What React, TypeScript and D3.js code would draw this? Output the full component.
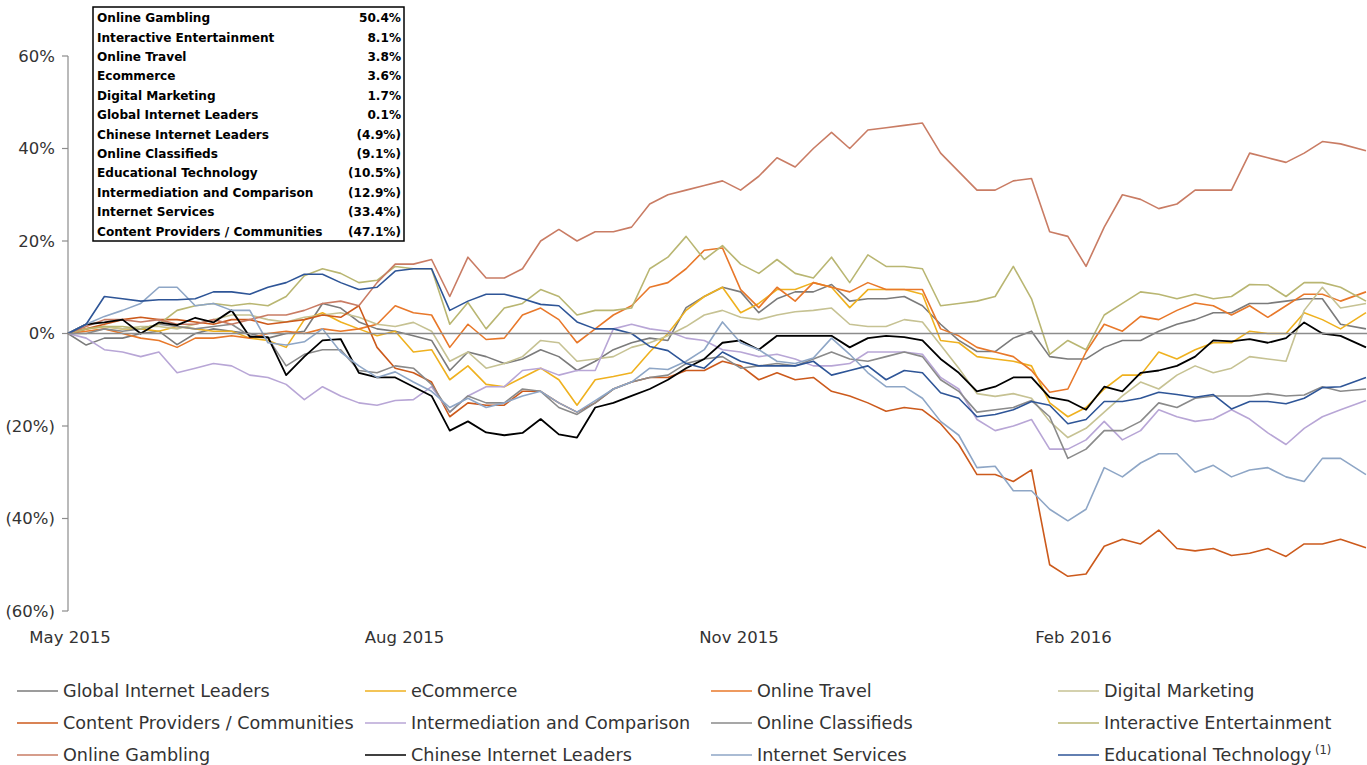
import React from "react";
import * as d3 from "d3";

const DATES = [
  "2015-05-01","2015-05-06","2015-05-11","2015-05-16","2015-05-21","2015-05-26","2015-05-31","2015-06-05","2015-06-10","2015-06-15",
  "2015-06-20","2015-06-25","2015-06-30","2015-07-05","2015-07-10","2015-07-15","2015-07-20","2015-07-25","2015-07-30","2015-08-04",
  "2015-08-09","2015-08-14","2015-08-19","2015-08-24","2015-08-29","2015-09-03","2015-09-08","2015-09-13","2015-09-18","2015-09-23",
  "2015-09-28","2015-10-03","2015-10-08","2015-10-13","2015-10-18","2015-10-23","2015-10-28","2015-11-02","2015-11-07","2015-11-12",
  "2015-11-17","2015-11-22","2015-11-27","2015-12-02","2015-12-07","2015-12-12","2015-12-17","2015-12-22","2015-12-27","2016-01-01",
  "2016-01-06","2016-01-11","2016-01-16","2016-01-21","2016-01-26","2016-01-31","2016-02-05","2016-02-10","2016-02-15","2016-02-20",
  "2016-02-25","2016-03-01","2016-03-06","2016-03-11","2016-03-16","2016-03-21","2016-03-26","2016-03-31","2016-04-05","2016-04-10",
  "2016-04-15","2016-04-22"
];

const X_TICKS = ["2015-05-01", "2015-08-01", "2015-11-01", "2016-02-01"];
const X_TICK_LABELS = ["May 2015", "Aug 2015", "Nov 2015", "Feb 2016"];
const Y_TICKS = [60, 40, 20, 0, -20, -40, -60];

const GLOBAL_INTERNET_LEADERS = [0,-2.5,-1,-1,0,0.5,-2.4,0,1,0.5,0,-1,0,0.5,6.5,5.5,2.5,1,0.5,-0.5,-1.5,-8,-4,-5,-6.5,-5.5,-3.5,-5,-8,-6,-3.5,-2,-1,-1.5,5.6,8,10,9,4.5,7.5,9,9,10.6,7,7.5,7.5,8,6,2,-1.5,-3.9,-3.9,-1,0.5,-5,-5.5,-5.5,-3,-1.5,-1.5,0.5,2,3,4.5,4.5,6.5,6.5,7,7.5,7.5,2,1];
const ECOMMERCE = [0,1,1.5,1,1,0.5,1.5,1,0.5,0.5,-1,-1.5,-3,3,4.5,2.5,1,-0.5,0.5,-4,-3.5,-10,-7,-11,-11.5,-9.5,-7.5,-10,-15.5,-10,-9.3,-8.5,-4,0,5,8,10,4.5,6.5,9.5,9.5,11,10,5.6,9.5,9.5,9.5,8.5,-1.5,-2,-5,-5.5,-6,-7,-15,-18,-16,-12,-9,-9,-4,-5.5,-3.5,-2,-2,0.5,0,0,4.5,3,1,4.5];
const ONLINE_TRAVEL = [0,0.5,1,0,-1,-1.5,-3,-1,-1,-0.5,-1,0,0.5,0,1,0.5,1,2,6,4.5,4,-3,2,-1.3,-1,4,5.5,3,-2,1,4,6,10,11,14,18,18.5,9.5,5.6,10,7,11,10,9,11,9.5,9.5,9.5,1,-0.5,-3,-4,-5,-8,-12.7,-12,-4,2,0.5,3.7,3,5,6.6,6,4,6,3.5,6,8.5,8.5,7,9];
const DIGITAL_MARKETING = [0,1,1.5,1,1.5,1.5,1,2,3,4,4,3,2.5,3.5,4,4.5,3.5,2,1.5,2.4,0.5,-6,-4,-7.5,-6.5,-5,-1.5,-2,-6,-5.5,-5,-3,-2,-0.5,1.5,4,5,3.5,3,4,4.7,5,5.5,2,1.5,1.5,3,2.5,-2.5,-7.5,-13,-13.6,-13,-14,-19,-22.5,-20.5,-17,-13.5,-10.5,-12,-9,-7,-8.5,-7.5,-5,-5.5,-6,5,10,5.5,6.5];
const CONTENT_PROVIDERS = [0,1,2,3,3.5,3,3,2.5,2,3,3,2,2.5,3,4,3.5,6,-3,-7.5,-8.5,-10.5,-18,-15,-15.5,-15.5,-12.5,-12.5,-15,-17,-15,-12,-10.5,-9.5,-9.5,-8,-8,-6,-7,-10,-8.5,-10,-9.5,-12.5,-13.5,-15,-16.8,-16,-16.5,-19.5,-24,-30.5,-30.5,-32,-29.5,-50,-52.5,-52,-46,-44.5,-45.5,-42.5,-46.5,-47,-46.5,-48,-47.5,-46.5,-48.2,-45.5,-45.5,-44.5,-46.3];
const INTERMEDIATION = [0,-1,-3.5,-4,-5,-4,-8.5,-7.5,-6.5,-7,-9,-9.5,-11,-14.3,-11.5,-13.5,-15,-15.5,-14.5,-14.3,-11.5,-17,-13.5,-11.5,-11.5,-8,-7.5,-9,-8,-8,1,2,1,0.5,-1,-1.5,-3.5,-4,-5,-4.5,-5.5,-7,-7,-6.5,-4,-4,-4,-4.5,-9.5,-12,-18.6,-21,-20,-18.6,-25,-25,-23,-19,-23,-21,-16.5,-18,-19,-18.5,-16.5,-18.5,-21.5,-24,-20.5,-18,-16.5,-14.5];
const ONLINE_CLASSIFIEDS = [0,0,1,0.5,1,2,1.5,1,1.5,2,-0.5,-1,-7,-4.5,-3.5,-3.5,-8,-8.5,-7,-7.5,-11,-17,-13.5,-15,-15,-12,-12.5,-16,-17.5,-15,-12,-10.5,-9.5,-9,-6.5,-5.5,-5,-7.5,-7,-6.5,-7,-5.5,-4,-5.5,-6,-5,-4,-5,-10,-12.5,-17,-16.5,-16,-14.5,-18,-27,-25,-21,-21,-19,-15,-16,-14,-13.5,-13.5,-13.5,-13,-13.5,-13.3,-11.5,-12.5,-12];
const INTERACTIVE_ENTERTAINMENT = [0,1,1.5,1.5,1,2,5,6,6.5,6,6.5,6,8,12.5,14,13,11,11.5,14.5,14,14,2,6.7,1,5.5,6.5,9.5,8,4,5,5,5.5,14,16.5,21,16,19,15,13,16,13,12,16.5,11,17,14.5,14.5,14,6,6.5,7,8,14.5,7.5,-4.5,-1.5,-3.5,4,6.5,9,8.5,7.5,8.5,7.5,8,10.6,10.5,8,11,11,10,7];
const ONLINE_GAMBLING = [0,1.5,3,3,2.5,3,2,2,3,2,3,4,4,5,6.5,7,6,11,15,15,16,8,16.5,12,12,14,20,22.5,20,22,22,23,28,30,31,32,33,31,34,38,36,40,43.5,40,44,44.5,45,45.5,39,35,31,31,33,33.5,22,21,14.5,23,30,29,27,28,31,31,31,39,38,37,39,41.5,41,39.5];
const CHINESE_INTERNET_LEADERS = [0,2,2.4,3,0,2.4,1.8,3.4,2.4,5,-0.7,-0.8,-9,-5,-1.5,-1.2,-8.5,-9.5,-9.5,-11.5,-13.5,-21,-19,-21.4,-22,-21.5,-18.5,-21.8,-22.5,-16,-15,-13.5,-12,-10,-7.5,-5.5,-2,-1.5,-3.5,-0.5,-0.5,-0.5,-0.5,-3,-1,-0.5,-0.8,-1.5,-5.5,-8.5,-12.5,-11.5,-9.5,-9.5,-13.8,-14.5,-16.5,-11.5,-12.5,-8.5,-8,-7,-5,-1.5,-1.7,-1.2,-2,-1,2.4,0,-0.5,-3];
const INTERNET_SERVICES = [0,2,3.7,5,6.5,10,10,6,6.5,5,5,-2,-2.5,-1.8,1,-4,-7,-9.5,-8.3,-10.5,-12.5,-16,-14,-16,-15,-13.5,-12.5,-15,-17,-14.5,-12,-10.5,-7.5,-7.8,-6,-3.5,2.5,-2,-3.5,-6,-6.5,-5.3,-1,-4.5,-8.5,-11.5,-11.5,-14,-19,-22,-29,-28.7,-34,-34,-38,-40.5,-38,-29,-31,-28,-26,-26,-30,-28.5,-31,-29.5,-29,-31,-32,-27,-27,-30.5];
const EDUCATIONAL_TECHNOLOGY = [0,2,8,7.5,7,7.3,7.3,7.5,9,9,8.5,10,11,12.8,12.8,11,9.5,10,13.5,14,14,5,7,8.5,8.5,7.5,6.3,6,2.5,1,1,0,-2.8,-3.7,-6.5,-7.5,-4,-6,-7,-7,-7,-6,-9,-8,-7,-10,-8,-8.5,-12.8,-14,-18,-17.5,-16.5,-14.7,-15.5,-19.5,-18.6,-14.7,-14.7,-14,-12.7,-13.2,-13.8,-13.2,-16.3,-14.7,-14.7,-15.2,-14,-11.7,-11.5,-9.5];

const TABLE_NAMES = ["Online Gambling","Interactive Entertainment","Online Travel","Ecommerce","Digital Marketing","Global Internet Leaders","Chinese Internet Leaders","Online Classifieds","Educational Technology","Intermediation and Comparison","Internet Services","Content Providers / Communities"];
const TABLE_VALUES = ["50.4%","8.1%","3.8%","3.6%","1.7%","0.1%","(4.9%)","(9.1%)","(10.5%)","(12.9%)","(33.4%)","(47.1%)"];

const SERIES = [
  { name: "Global Internet Leaders", values: GLOBAL_INTERNET_LEADERS, color: "#7b7b7b" },
  { name: "eCommerce", values: ECOMMERCE, color: "#efb11f" },
  { name: "Online Travel", values: ONLINE_TRAVEL, color: "#e8782a" },
  { name: "Digital Marketing", values: DIGITAL_MARKETING, color: "#c6c293" },
  { name: "Content Providers / Communities", values: CONTENT_PROVIDERS, color: "#cc5a1c" },
  { name: "Intermediation and Comparison", values: INTERMEDIATION, color: "#b8a6d6" },
  { name: "Online Classifieds", values: ONLINE_CLASSIFIEDS, color: "#8a8a8a" },
  { name: "Interactive Entertainment", values: INTERACTIVE_ENTERTAINMENT, color: "#b9b672" },
  { name: "Online Gambling", values: ONLINE_GAMBLING, color: "#c97c64" },
  { name: "Chinese Internet Leaders", values: CHINESE_INTERNET_LEADERS, color: "#000000" },
  { name: "Internet Services", values: INTERNET_SERVICES, color: "#8ea6c6" },
  { name: "Educational Technology", values: EDUCATIONAL_TECHNOLOGY, color: "#2e5597" },
];

const FONT = "'DejaVu Sans', sans-serif";

export default function App() {
  const W = 1367, H = 765;
  const parse = d3.timeParse("%Y-%m-%d");
  const dates = DATES.map((s) => parse(s) as Date);
  const x = d3.scaleTime().domain([dates[0], dates[dates.length - 1]]).range([68, 1366]);
  const y = d3.scaleLinear().domain([-60, 60]).range([611, 56]);
  const fmtY = (v: number) => (v < 0 ? `(${Math.abs(v)}%)` : `${v}%`);

  const legendCols = [17, 365, 711, 1058];
  const legendRows = [691, 723, 755];

  return (
    <svg width={W} height={H} style={{ position: "absolute", left: 0, top: 0, background: "#fff" }} fontFamily={FONT}>
      {/* y axis */}
      <line x1={68} x2={68} y1={y(60)} y2={y(-60)} stroke="#8c8c8c" strokeWidth={1.2} />
      {Y_TICKS.map((t) => (
        <g key={t}>
          <line x1={62} x2={68} y1={y(t)} y2={y(t)} stroke="#8c8c8c" strokeWidth={1.2} />
          <text x={55} y={y(t)} dy="0.35em" textAnchor="end" fontSize={16.5} fill="#333">
            {fmtY(t)}
          </text>
        </g>
      ))}
      {X_TICKS.map((t, i) => (
        <text key={t} x={x(parse(t) as Date) + 2} y={643} textAnchor="middle" fontSize={16.5} fill="#333">
          {X_TICK_LABELS[i]}
        </text>
      ))}
      {/* series */}
      {SERIES.map((s) => {
        const line = d3
          .line<number>()
          .x((_, i) => x(dates[i]))
          .y((v) => y(v));
        return (
          <path
            key={s.name}
            d={line(s.values) || ""}
            fill="none"
            stroke={s.color}
            strokeWidth={s.color === "#000000" ? 1.8 : 1.6}
            strokeLinejoin="round"
          />
        );
      })}
      {/* zero line */}
      <line x1={68} x2={1367} y1={y(0)} y2={y(0)} stroke="#8c8c8c" strokeWidth={1.5} />

      {/* table */}
      <rect x={93} y={7} width={311} height={234} fill="#fff" stroke="#000" strokeWidth={1.5} />
      {TABLE_NAMES.map((n, i) => (
        <g key={n}>
          <text x={97} y={18 + i * 19.4} dy="0.35em" fontSize={12.1} fontWeight="bold" fill="#000">
            {n}
          </text>
          <text x={401} y={18 + i * 19.4} dy="0.35em" fontSize={12.1} fontWeight="bold" textAnchor="end" fill="#000">
            {TABLE_VALUES[i]}
          </text>
        </g>
      ))}

      {/* legend */}
      {SERIES.map((s, i) => {
        const cx = legendCols[i % 4];
        const cy = legendRows[Math.floor(i / 4)];
        return (
          <g key={s.name}>
            <line x1={cx} x2={cx + 41} y1={cy} y2={cy} stroke={s.color} strokeWidth={1.6} />
            <text x={cx + 46} y={cy} dy="0.35em" fontSize={17.6} fill="#333">
              {s.name}
              {s.name === "Educational Technology" ? (
                <tspan dy="-0.6em" fontSize={11.5}>{" (1)"}</tspan>
              ) : null}
            </text>
          </g>
        );
      })}
    </svg>
  );
}
